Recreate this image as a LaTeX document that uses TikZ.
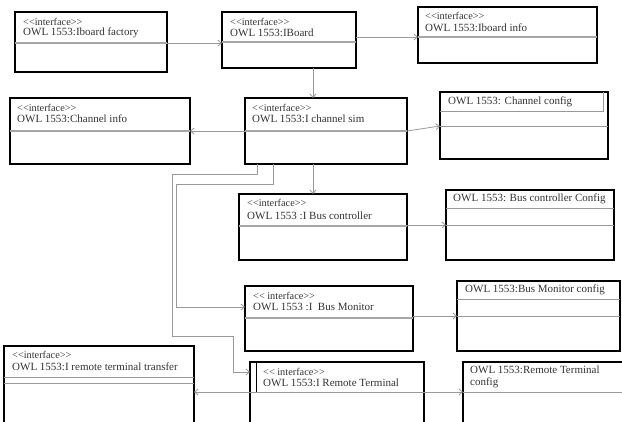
\documentclass[tikz,border=0pt]{standalone}
\usepackage{fontspec}
\setmainfont{Liberation Serif}
\usetikzlibrary{arrows.meta}
\newcommand{\lt}{<\kern0pt<}
\newcommand{\gt}{>\kern0pt>}
\newcommand{\stereo}{\lt interface\gt}
\newcommand{\umlbox}[5]{\node[umlrect, minimum width={(#4-#2)*1pt}, minimum height={(#5-#3)*1pt}] (#1) at (#2,#3) {};}
\begin{document}
\begin{tikzpicture}[x=1pt,y=-1pt,
  umlrect/.style={draw=black, line width=1.6pt, anchor=north west, inner sep=0pt, outer sep=0pt},
  sepline/.style={draw=gray!70, line width=1.4pt},
  thinsep/.style={draw=gray!80, line width=0.7pt},
  stxt/.style={anchor=west, inner sep=0pt, font=\fontsize{10.3}{11}\selectfont, text=black!80},
  ntxt/.style={anchor=west, inner sep=0pt, font=\fontsize{11}{11.5}\selectfont, text=black!80, align=left},
  conn/.style={draw=gray!80, line width=0.8pt},
  arr/.style={conn, -{Straight Barb[length=3.5pt,width=6pt]}}
]
\clip (0,0) rectangle (622,421);
\fill[white] (0,0) rectangle (622,421);

% boxes
\umlbox{b1}{15}{12}{167}{72}
\umlbox{b2}{222}{12}{356}{68}
\umlbox{b3}{418}{7}{597}{63}
\umlbox{b4}{10}{98}{190}{164}
\umlbox{b5}{245}{98}{407}{164}
\umlbox{b6}{440}{92}{608}{159}
\umlbox{b7}{239}{194}{407}{260}
\umlbox{b8}{446}{190}{614}{260}
\umlbox{b9}{245}{286}{413}{351}
\umlbox{b10}{457}{281}{620}{351}
\umlbox{b11}{250}{362}{424}{440}
\umlbox{b12}{463}{362}{640}{440}
\umlbox{b13}{4}{346}{194}{440}

% separators
\draw[sepline] (15,43) -- (167,43);
\draw[sepline] (222,42) -- (356,42);
\draw[sepline] (418,37) -- (597,37);
\draw[sepline] (10,131) -- (190,131);
\draw[sepline] (245,131) -- (407,131);
\draw[thinsep] (440,111) -- (603,111) -- (603,92);
\draw[thinsep] (440,126) -- (608,126);
\draw[sepline] (239,226) -- (407,226);
\draw[thinsep] (446,208) -- (614,208);
\draw[thinsep] (446,225) -- (614,225);
\draw[sepline] (245,318) -- (413,318);
\draw[thinsep] (457,299) -- (620,299);
\draw[thinsep] (457,316) -- (620,316);
\draw[line width=0.9pt] (256,362) -- (256,392);
\draw[thinsep] (463,392) -- (640,392);
\draw[thinsep] (4,377) -- (194,377);
\draw[thinsep] (4,383) -- (194,383);

% texts
\node[stxt] (t1a) at (23,22) {\stereo};
\node[ntxt] (t1b) at (23,33) {OWL 1553:Iboard factory};
\node[stxt] (t2a) at (230,22) {\stereo};
\node[ntxt] (t2b) at (230,33) {OWL 1553:IBoard};
\node[stxt] (t3a) at (425,16) {\stereo};
\node[ntxt] (t3b) at (425,28) {OWL 1553:Iboard info};
\node[stxt] (t4a) at (17,108) {\stereo};
\node[ntxt] (t4b) at (17,119) {OWL 1553:Channel info};
\node[stxt] (t5a) at (252,108) {\stereo};
\node[ntxt] (t5b) at (252,119) {OWL 1553:I channel sim};
\node[ntxt] (t6) at (448,102) {OWL 1553: Channel config};
\node[stxt] (t7a) at (247,203) {\stereo};
\node[ntxt] (t7b) at (247,216) {OWL 1553 :I Bus controller};
\node[ntxt] (t8) at (453,199) {OWL 1553: Bus controller Config};
\node[stxt] (t9a) at (253,296) {\lt\ interface\gt};
\node[ntxt] (t9b) at (253,307) {OWL 1553 :I\ \ Bus Monitor};
\node[ntxt] (t10) at (465,290) {OWL 1553:Bus Monitor config};
\node[stxt] (t11a) at (263,372) {\lt\ interface\gt};
\node[ntxt] (t11b) at (263,383) {OWL 1553:I Remote Terminal};
\node[ntxt] (t12) at (470,377) {OWL 1553:Remote Terminal\\config};
\node[stxt] (t13a) at (12,355) {\stereo};
\node[ntxt] (t13b) at (12,367) {OWL 1553:I remote terminal transfer};

% connectors
\draw[arr] (b1.east |- 0,43) -- (b2.west |- 0,43);
\draw[arr] (b2.east |- 0,37) -- (b3.west |- 0,37);
\draw[arr] (b2.south -| 313,0) -- (b5.north -| 313,0);
\draw[arr] (b5.west |- 0,131) -- (b4.east |- 0,131);
\draw[arr] (b5.east |- 0,131) -- (b6.west |- 0,126);
\draw[arr] (b5.south -| 313,0) -- (b7.north -| 313,0);
\draw[arr] (b7.east |- 0,225) -- (b8.west |- 0,225);
\draw[arr] (b9.east |- 0,316) -- (b10.west |- 0,316);
\draw[arr] (b5.south -| 273,0) -- (273,184) -- (176,184) -- (176,307) -- (b9.west |- 0,307);
\draw[arr] (b5.south -| 257,0) -- (257,174) -- (172,174) -- (172,336) -- (233,336) -- (233,372) -- (b11.west |- 0,372);
\coordinate (m11) at (337,392);
\draw[arr] (m11) -- (b13.east |- m11);
\draw[arr] (m11) -- (b12.west |- m11);
\end{tikzpicture}
\end{document}
